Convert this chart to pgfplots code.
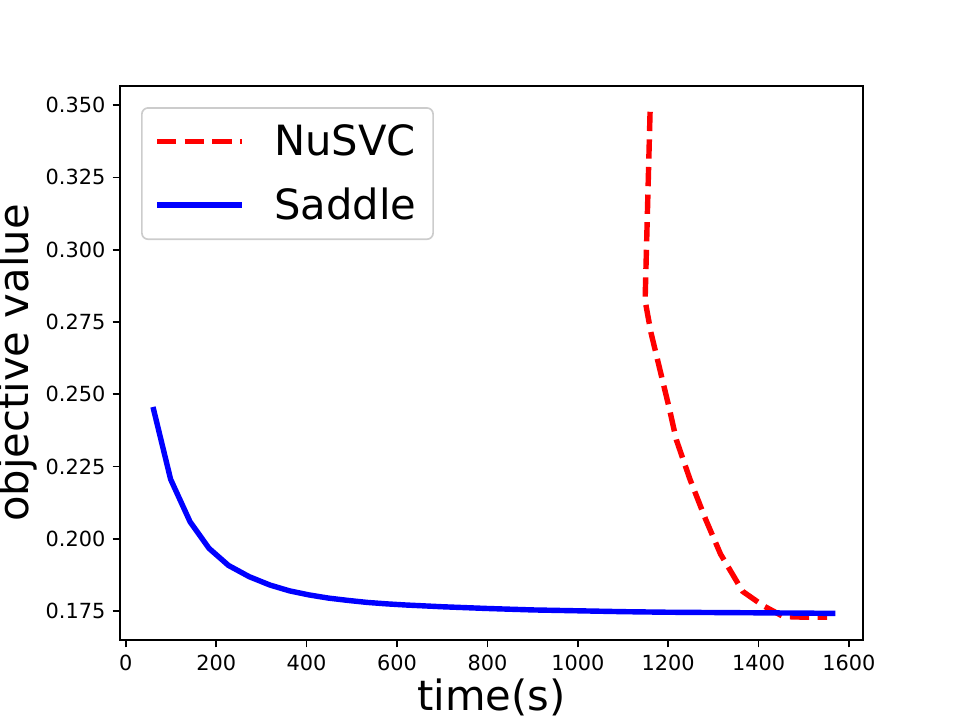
\documentclass[border=0pt]{standalone}
\usepackage{pgfplots}
\pgfplotsset{compat=1.18}
\usepackage{fontspec}
\setmainfont{DejaVu Sans}
\setsansfont{DejaVu Sans}

\definecolor{mplred}{RGB}{255,0,0}
\definecolor{mplblue}{RGB}{0,0,255}
\definecolor{legedge}{RGB}{204,204,204}

\begin{document}
\begin{tikzpicture}
% page frame: 460.8pt x 345.6pt, axis box anchored at the origin
\useasboundingbox (-57.6pt,-38.4pt) rectangle (403.2pt,307.2pt);
\begin{axis}[
  at={(0pt,0pt)}, anchor=south west,
  scale only axis,
  width=356.6pt, height=265.9pt,
  xmin=-13, xmax=1631,
  ymin=0.165, ymax=0.3566,
  xtick={0,200,...,1600},
  ytick={0.175,0.2,0.225,0.25,0.275,0.3,0.325,0.35},
  xtick pos=left, ytick pos=left,
  tick align=outside,
  major tick length=3.5pt,
  every tick/.style={black, line width=0.8pt},
  axis line style={line width=0.8pt},
  /pgf/number format/assume math mode=true,
  tick label style={font=\fontsize{10}{12}\selectfont},
  x tick label style={/pgf/number format/.cd, fixed, 1000 sep={}},
  y tick label style={/pgf/number format/.cd, fixed, fixed zerofill, precision=3},
  scaled y ticks=false,
  xlabel={time(s)},
  ylabel={objective value},
  label style={font=\fontsize{20}{24}\selectfont},
  xlabel style={yshift=3pt},
  ylabel style={yshift=-3pt},
  legend cell align=left,
  legend image code/.code={\draw[#1] (0pt,0pt) -- (41pt,0pt);},
  legend style={
    at={(0.0283,0.962)}, anchor=north west,
    draw=legedge, line width=0.8pt, rounded corners=3pt,
    fill=white, fill opacity=0.8, text opacity=1,
    font=\fontsize{20}{24}\selectfont,
    inner xsep=6pt, inner ysep=6pt,
    row sep=10pt,
    /tikz/every odd column/.style={column sep=12pt},
  },
]
% NuSVC objective over time
\addplot[mplred, line width=2.6pt, dash pattern=on 9.25pt off 4pt] coordinates {
  (1160,0.3477) (1149,0.2824) (1162,0.2713) (1203,0.2448) (1218,0.2343)
  (1248,0.2207) (1282,0.2071) (1316,0.1947) (1365,0.1818) (1410,0.1769)
  (1455,0.1731) (1500,0.1729) (1552,0.1729)
};
\addlegendentry{NuSVC}
% Saddle objective over time
\addplot[mplblue, line width=2.6pt] coordinates {
  (60,0.2456) (99,0.2206) (142,0.2059) (184,0.1967) (227,0.1908)
  (273,0.1869) (319,0.1840) (362,0.1820) (405,0.1806) (448,0.1795)
  (491,0.1787) (534,0.1780) (577,0.1775) (620,0.1771) (700,0.1765)
  (800,0.1759) (900,0.1754) (1000,0.1751) (1100,0.1748) (1200,0.1746)
  (1300,0.1745) (1400,0.1744) (1500,0.1743) (1570,0.1742)
};
\addlegendentry{Saddle}
\end{axis}
\end{tikzpicture}
\end{document}
